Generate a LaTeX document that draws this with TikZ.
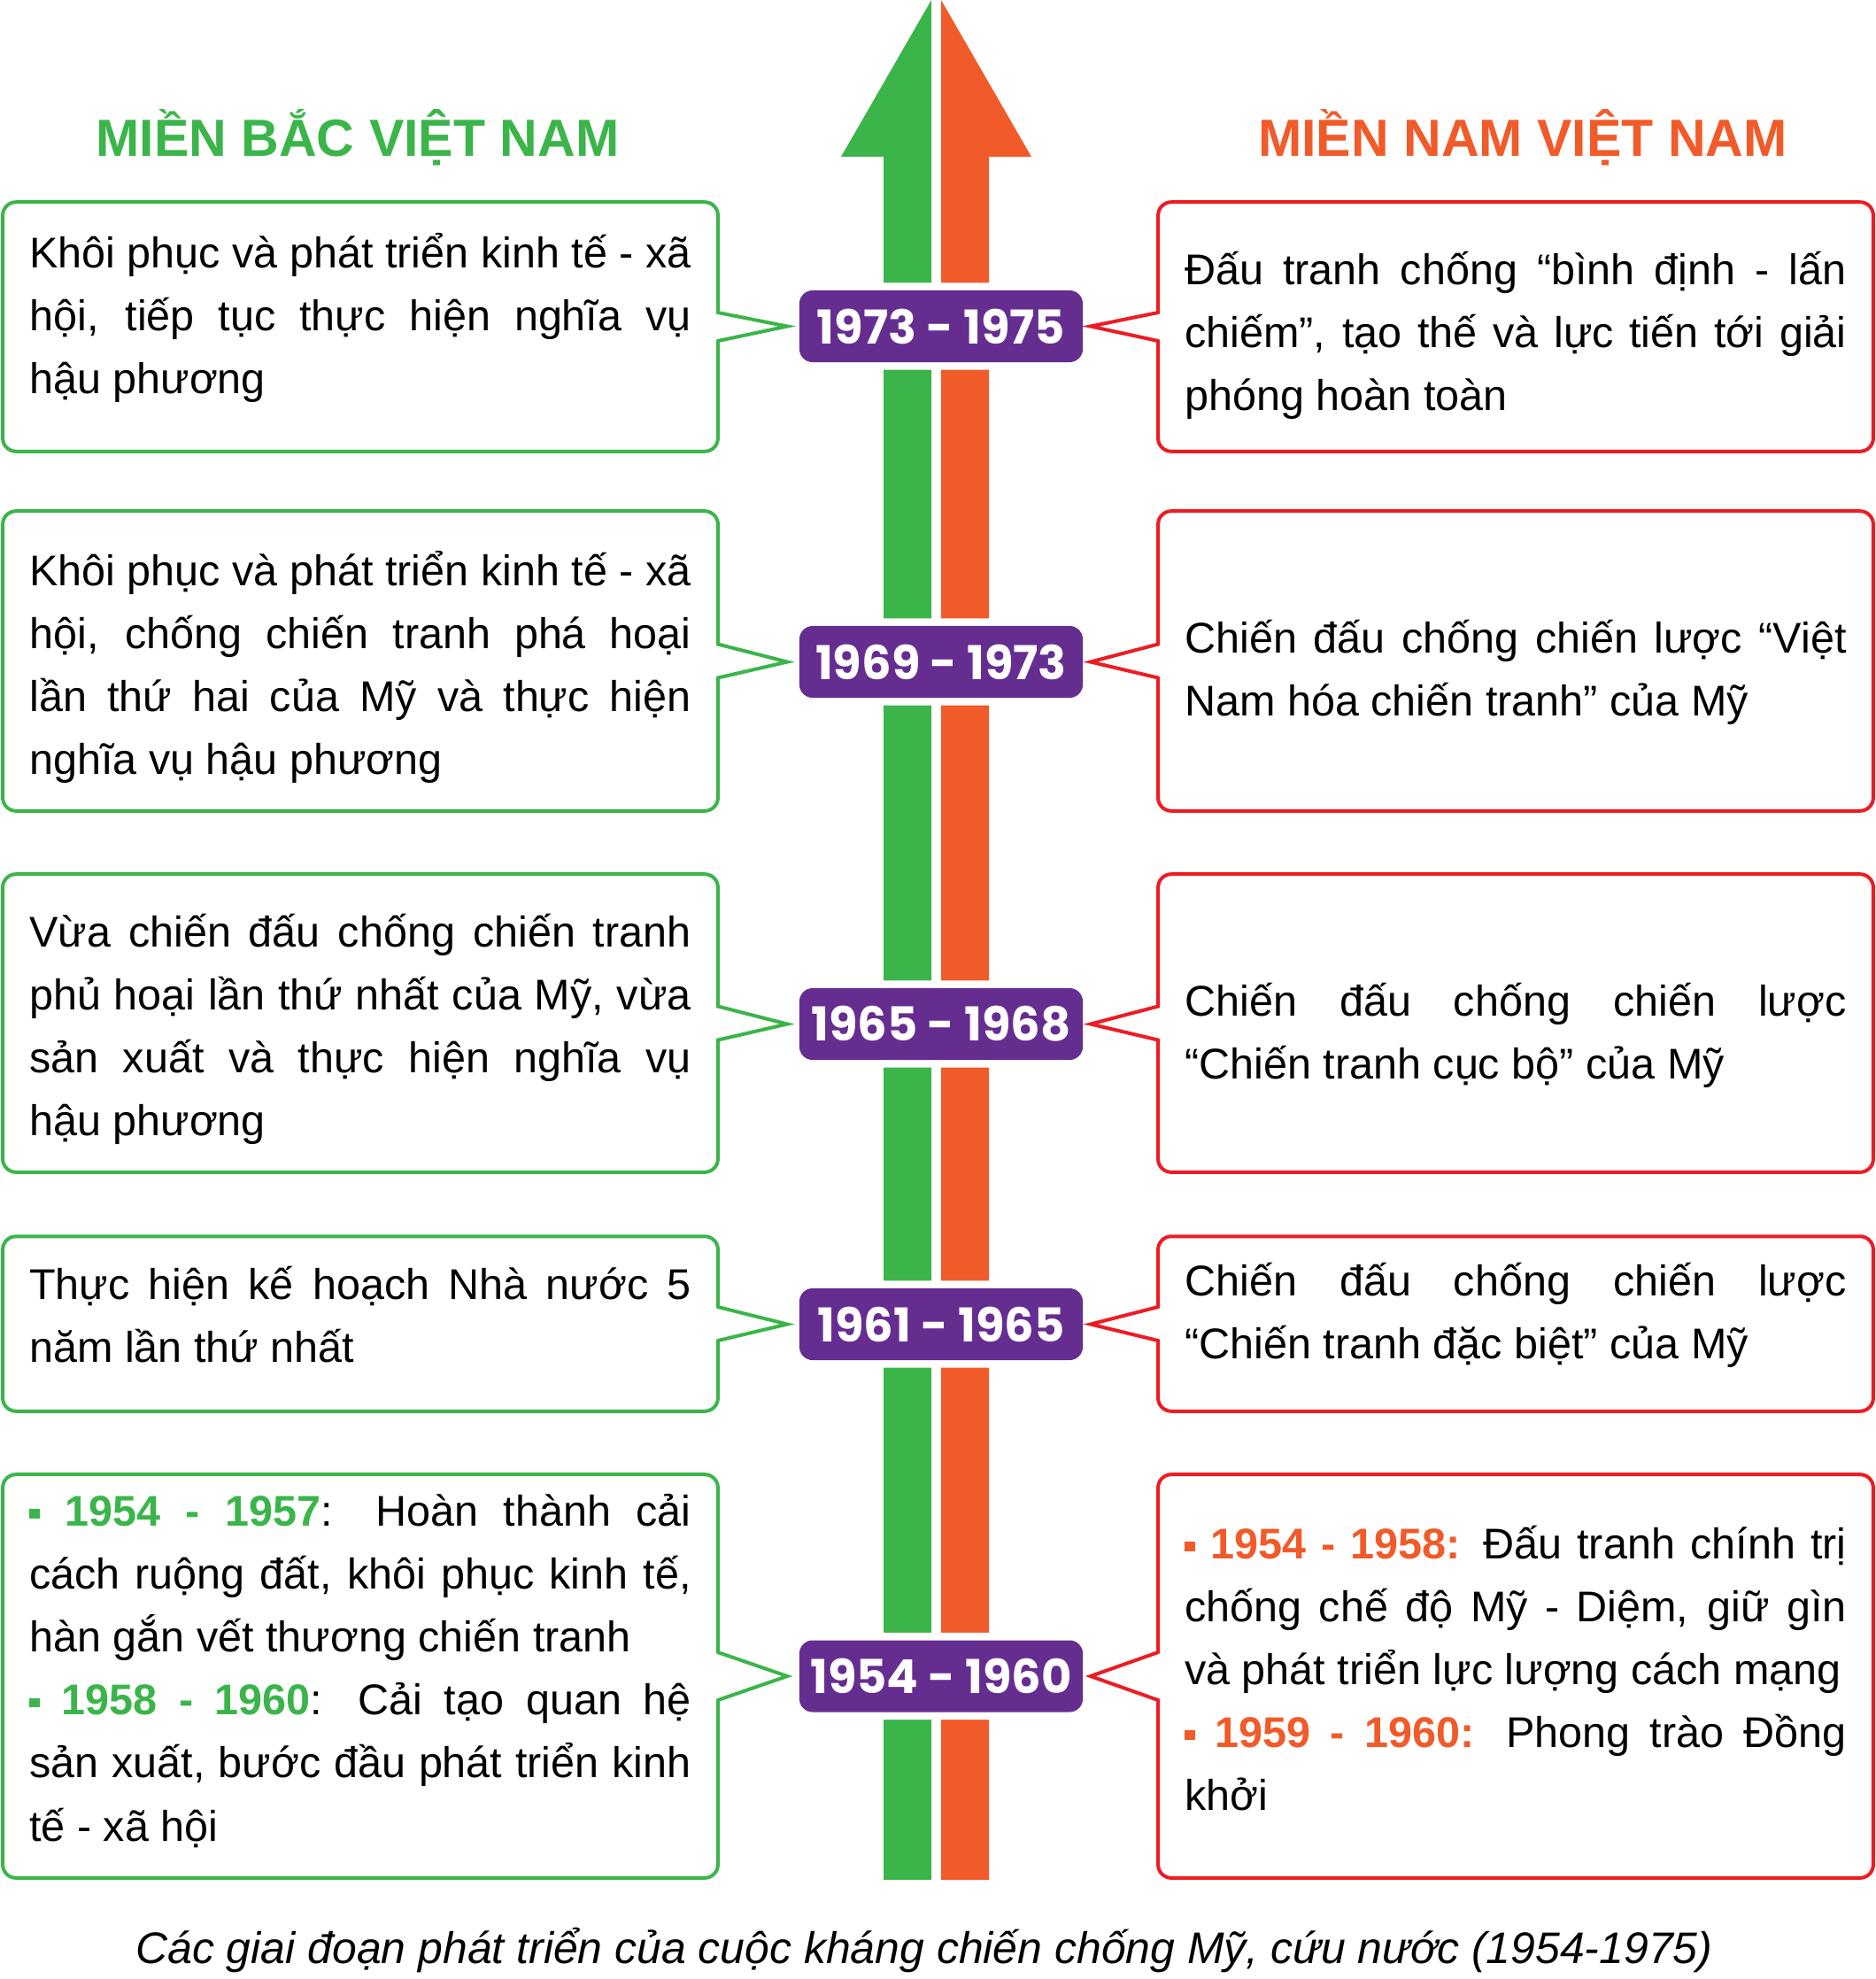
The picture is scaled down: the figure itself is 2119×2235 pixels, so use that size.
\documentclass[tikz,border=0pt]{standalone}
\usepackage{fontspec}
\setmainfont{Liberation Sans}
\newfontfamily\yearfont{Poppins}
\usetikzlibrary{calc}
\definecolor{bacgreen}{HTML}{3BB54A}
\definecolor{namorange}{HTML}{F15A29}
\definecolor{namred}{HTML}{ED1C24}
\definecolor{yearpurple}{HTML}{662D91}
\newcommand\sqbul[1]{\textcolor{#1}{\rule[0.18em]{0.24em}{0.22em}}}
\tikzset{
  bacline/.style={draw=bacgreen, line width=0.04cm, line cap=round},
  namline/.style={draw=namred, line width=0.04cm, line cap=round},
  framebox/.style={minimum width=8.06cm, inner sep=0pt},
  textbox/.style={text width=7.47cm, align=justify, inner sep=0pt,
    font=\fontsize{13.8pt}{20.2pt}\selectfont},
  yearbox/.style={fill=yearpurple, text=white, rounded corners=0.15cm, minimum width=3.2cm,
    minimum height=0.81cm, inner sep=0pt, font=\yearfont\bfseries\fontsize{15pt}{18pt}\selectfont,
    preaction={draw=white, line width=0.17cm}},
  heading/.style={anchor=base, font=\bfseries\fontsize{16.8pt}{20pt}\selectfont},
}
\begin{document}
\begin{tikzpicture}[x=0.01cm,y=-0.01cm]
	\useasboundingbox (0,0) rectangle (2119,2235);
	% the two-coloured arrow
	\fill[bacgreen] (998,2123) -- (998,177) -- (950,177) -- (1052,0) -- (1052,2123) -- cycle;
	\fill[namorange] (1063,2123) -- (1063,0) -- (1165,177) -- (1117,177) -- (1117,2123) -- cycle;
	% headings
	\node[heading, text=bacgreen] (bac) at (404,176) {MIỀN BẮC VIỆT NAM};
	\node[heading, text=namorange] (nam) at (1720,176) {MIỀN NAM VIỆT NAM};
	% periods
	\node[yearbox] (y1) at (1063,368.5) {1973 - 1975};
	\node[yearbox] (y2) at (1063,747.5) {1969 - 1973};
	\node[yearbox] (y3) at (1063,1156.5) {1965 - 1968};
	\node[yearbox] (y4) at (1063,1495.5) {1961 - 1965};
	\node[yearbox] (y5) at (1063,1893) {1954 - 1960};
	% frames
	\node[framebox, minimum height=2.8cm] (bac1) at (407,369) {};
	\node[framebox, minimum height=3.37cm] (bac2) at (407,746.5) {};
	\node[framebox, minimum height=3.35cm] (bac3) at (407,1155.5) {};
	\node[framebox, minimum height=1.96cm] (bac4) at (407,1495) {};
	\node[framebox, minimum height=4.54cm] (bac5) at (407,1893) {};
	\node[framebox, minimum height=2.8cm] (nam1) at (1712,369) {};
	\node[framebox, minimum height=3.37cm] (nam2) at (1712,746.5) {};
	\node[framebox, minimum height=3.35cm] (nam3) at (1712,1155.5) {};
	\node[framebox, minimum height=1.96cm] (nam4) at (1712,1495) {};
	\node[framebox, minimum height=4.54cm] (nam5) at (1712,1893) {};
	% north
	\node[textbox] (bac1t) at (407,359) {Khôi phục và phát triển kinh tế - xã\linebreak hội, tiếp tục thực hiện nghĩa vụ\linebreak hậu phương};
	\node[textbox] (bac2t) at (407,753.5) {Khôi phục và phát triển kinh tế - xã\linebreak hội, chống chiến tranh phá hoại\linebreak lần thứ hai của Mỹ và thực hiện\linebreak nghĩa vụ hậu phương};
	\node[textbox] (bac3t) at (407,1162.5) {Vừa chiến đấu chống chiến tranh\linebreak phủ hoại lần thứ nhất của Mỹ, vừa\linebreak sản xuất và thực hiện nghĩa vụ\linebreak hậu phương};
	\node[textbox] (bac4t) at (407,1485) {Thực hiện kế hoạch Nhà nước 5\linebreak năm lần thứ nhất};
	\node[textbox] (bac5t) at (407,1887) {\sqbul{bacgreen} \textcolor{bacgreen}{\bfseries 1954 - 1957}: Hoàn thành cải\linebreak cách ruộng đất, khôi phục kinh tế,\linebreak hàn gắn vết thương chiến tranh\\
		\sqbul{bacgreen} \textcolor{bacgreen}{\bfseries 1958 - 1960}: Cải tạo quan hệ\linebreak sản xuất, bước đầu phát triển kinh\linebreak tế - xã hội};
	% south
	\node[textbox] (nam1t) at (1712,379) {Đấu tranh chống “bình định - lấn\linebreak chiếm”, tạo thế và lực tiến tới giải\linebreak phóng hoàn toàn};
	\node[textbox] (nam2t) at (1712,759.5) {Chiến đấu chống chiến lược “Việt\linebreak Nam hóa chiến tranh” của Mỹ};
	\node[textbox] (nam3t) at (1712,1169.5) {Chiến đấu chống chiến lược\linebreak “Chiến tranh cục bộ” của Mỹ};
	\node[textbox] (nam4t) at (1712,1485) {Chiến đấu chống chiến lược\linebreak “Chiến tranh đặc biệt” của Mỹ};
	\node[textbox] (nam5t) at (1712,1884) {\sqbul{namorange} \textcolor{namorange}{\bfseries 1954 - 1958:} Đấu tranh chính trị\linebreak chống chế độ Mỹ - Diệm, giữ gìn\linebreak và phát triển lực lượng cách mạng\\
		\sqbul{namorange} \textcolor{namorange}{\bfseries 1959 - 1960:} Phong trào Đồng\linebreak khởi};
	% outlines with pointers
	\foreach \i/\h in {1/16,2/19,3/19,4/19,5/27} {
		\draw[bacline, rounded corners=0.15cm] ($(bac\i.east)+(0,-\h)$) -- (bac\i.north east) -- (bac\i.north west)
			-- (bac\i.south west) -- (bac\i.south east) -- ($(bac\i.east)+(0,\h)$);
		\draw[bacline] ($(bac\i.east)+(0,-\h)$) -- ($(y\i.west)+(-13,0)$) -- ($(bac\i.east)+(0,\h)$);
		\draw[namline, rounded corners=0.15cm] ($(nam\i.west)+(0,-\h)$) -- (nam\i.north west) -- (nam\i.north east)
			-- (nam\i.south east) -- (nam\i.south west) -- ($(nam\i.west)+(0,\h)$);
		\draw[namline] ($(nam\i.west)+(0,-\h)$) -- ($(y\i.east)+(8,0)$) -- ($(nam\i.west)+(0,\h)$);
	}
	\node[anchor=base, font=\itshape\fontsize{14.2pt}{17pt}\selectfont] (cap) at (1044,2217) {Các giai đoạn phát triển của cuộc kháng chiến chống Mỹ, cứu nước (1954-1975)};
\end{tikzpicture}
\end{document}
